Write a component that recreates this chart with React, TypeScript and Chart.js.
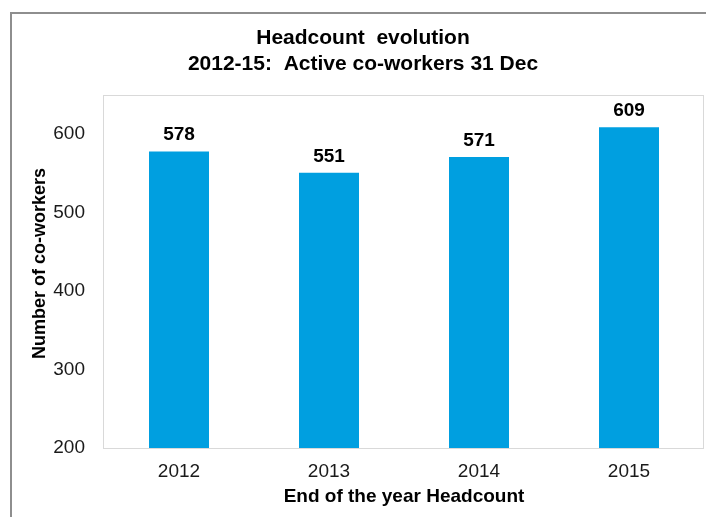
import React, { useEffect, useRef } from "react";
import { Chart, registerables } from "chart.js";

Chart.register(...registerables);

const categories: string[] = ["2012", "2013", "2014", "2015"];
const headcount: number[] = [578, 551, 571, 609];
const titleLines: string[] = ["Headcount  evolution", "2012-15:  Active co-workers 31 Dec"];
const xTitle = "End of the year Headcount";
const yTitle = "Number of co-workers";
const yMin = 200;
const yMax = 650;
const yStep = 100;

const FONT = "'Liberation Sans', Arial, sans-serif";

const decorPlugin = {
  id: "decor",
  beforeDraw(chart: any) {
    const ctx = chart.ctx;
    ctx.save();
    // outer frame (cropped)
    ctx.fillStyle = "#8e8e8e";
    ctx.fillRect(10, 12, 2, chart.height);
    ctx.fillRect(10, 12, chart.width, 2);
    ctx.restore();
  },
  afterDatasetsDraw(chart: any) {
    const ctx = chart.ctx;
    const a = chart.chartArea;
    ctx.save();
    ctx.strokeStyle = "#d9d9d9";
    ctx.lineWidth = 1;
    ctx.strokeRect(a.left - 0.5, a.top + 0.5, a.right - a.left, a.bottom - a.top);
    // value labels
    const meta = chart.getDatasetMeta(0);
    const data = chart.data.datasets[0].data;
    ctx.fillStyle = "#000";
    ctx.font = `bold 19px ${FONT}`;
    ctx.textAlign = "center";
    ctx.textBaseline = "alphabetic";
    meta.data.forEach((bar: any, i: number) => {
      ctx.fillText(String(data[i]), bar.x, bar.y - 11);
    });
    // y axis title (slightly above the plot centre, as in the reference)
    const yScale = chart.scales.y;
    ctx.translate(yScale.left + 18, (a.top + a.bottom) / 2 - 8);
    ctx.rotate(-Math.PI / 2);
    ctx.font = `bold 18px ${FONT}`;
    ctx.textBaseline = "middle";
    ctx.fillText(yTitle, 0, 0);
    ctx.restore();
  },
};

export default function App() {
  const ref = useRef<HTMLCanvasElement | null>(null);

  useEffect(() => {
    if (!ref.current) return;
    const chart = new Chart(ref.current, {
      type: "bar",
      data: {
        labels: categories,
        datasets: [
          {
            data: headcount,
            backgroundColor: "#009fe0",
            borderWidth: 0,
            categoryPercentage: 1,
            barPercentage: 0.4,
          },
        ],
      },
      options: {
        responsive: false,
        animation: false,
        layout: { padding: { left: 22, right: 2, top: 0, bottom: 0 } },
        plugins: {
          legend: { display: false },
          tooltip: { enabled: false },
          title: {
            display: true,
            text: titleLines,
            color: "#000",
            font: { family: FONT, size: 21, weight: "bold", lineHeight: 1.262 },
            padding: { top: 24.5, bottom: 17.5 },
          },
        },
        scales: {
          x: {
            grid: { display: false, drawTicks: false },
            border: { display: false },
            ticks: {
              color: "#1a1a1a",
              font: { family: FONT, size: 19 },
              padding: 12,
              maxRotation: 0,
            },
            title: {
              display: true,
              text: xTitle,
              color: "#000",
              font: { family: FONT, size: 19, weight: "bold" },
              padding: { top: 0, bottom: 9 },
            },
            afterFit: (scale: any) => {
              scale.height = 69;
            },
          },
          y: {
            min: yMin,
            max: yMax,
            grid: { display: false, drawTicks: false },
            border: { display: false },
            ticks: {
              stepSize: yStep,
              includeBounds: false,
              color: "#1a1a1a",
              font: { family: FONT, size: 19 },
              padding: 19,
            },
            title: { display: false },
            afterFit: (scale: any) => {
              scale.width = 82;
            },
          },
        },
      },
      plugins: [decorPlugin],
    });
    return () => chart.destroy();
  }, []);

  return (
    <div
      style={{
        position: "fixed",
        left: 0,
        top: 0,
        width: 706,
        height: 517,
        background: "#fff",
        overflow: "hidden",
      }}
    >
      <canvas ref={ref} width={706} height={517} style={{ display: "block" }} />
    </div>
  );
}
